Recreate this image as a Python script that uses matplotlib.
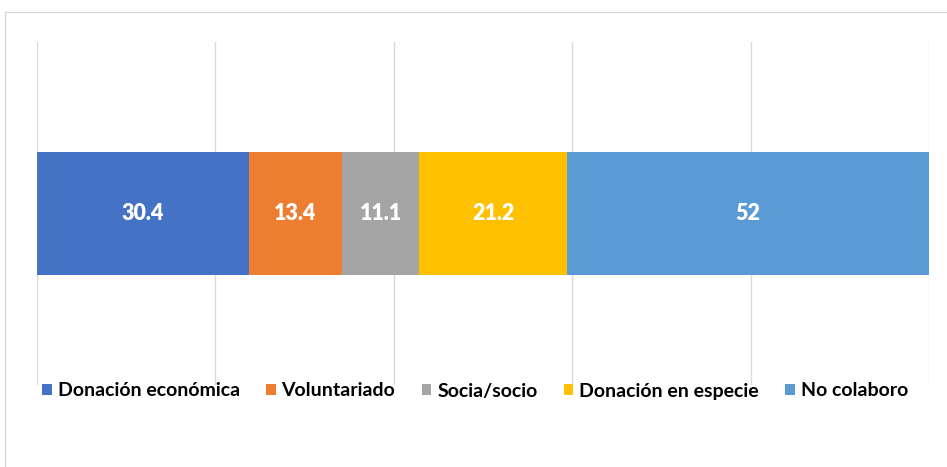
import matplotlib.pyplot as plt
from matplotlib.patches import Rectangle

categories = ['Donación económica', 'Voluntariado', 'Socia/socio',
              'Donación en especie', 'No colaboro']
values = [30.4, 13.4, 11.1, 21.2, 52]
colors = ['#4472C4', '#ED7D31', '#A5A5A5', '#FFC000', '#5B9BD5']

plt.rcParams['font.family'] = ['Lato', 'DejaVu Sans']

W, H = 947, 467
fig = plt.figure(figsize=(W / 100, H / 100), dpi=100)
ax = fig.add_axes([37 / W, 1 - 385 / H, (929 - 37) / W, (385 - 42) / H])

# 100% stacked bar
total = sum(values)
left = 0
for cat, v, c in zip(categories, values, colors):
    pct = v / total * 100
    ax.barh(0, pct, left=left, height=0.356, color=c, label=cat)
    ax.text(left + pct / 2, 0, f'{v:g}', ha='center', va='center',
            color='white', fontsize=15.5, fontweight='heavy')
    left += pct

ax.set_xlim(0, 100)
ax.set_ylim(-0.5, 0.5)
ax.set_xticks(range(0, 101, 20))
ax.set_yticks([])
ax.tick_params(axis='x', length=0, labelbottom=False)
ax.grid(axis='x', color='#D9D9D9', linewidth=1)
ax.set_axisbelow(True)
for s in ax.spines.values():
    s.set_visible(False)

# chart border
fig.patches.append(Rectangle((5 / W, -0.1), 1.2, 1 - 12 / H + 0.1,
                             transform=fig.transFigure, fill=False,
                             edgecolor='#D9D9D9', linewidth=1))

fig.legend(loc='center', bbox_to_anchor=(475 / W, 1 - 391 / H), ncol=5,
           frameon=False, handlelength=0.5, handleheight=0.5,
           handletextpad=0.3, columnspacing=1.35,
           prop={'size': 14, 'weight': 'bold'})

fig.savefig('out.png', dpi=100)
